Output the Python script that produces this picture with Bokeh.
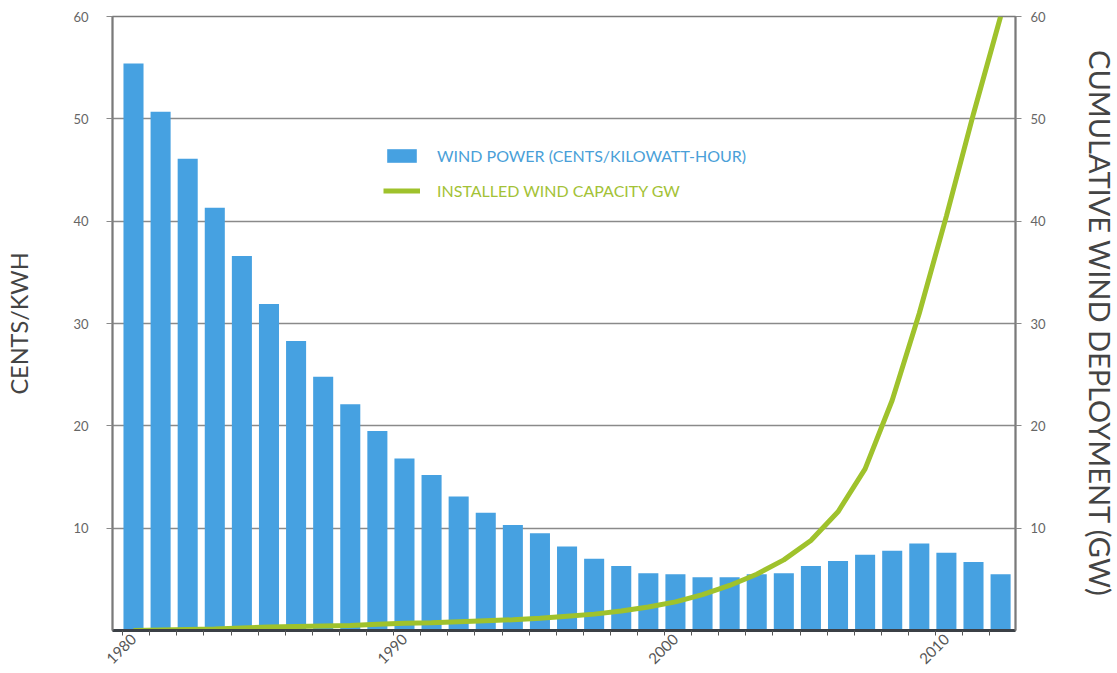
from math import pi
from bokeh.plotting import figure
from bokeh.models import (Range1d, LinearAxis, FixedTicker, Legend, LegendItem,
                          ColumnDataSource)
from bokeh.embed import file_html
from bokeh.resources import INLINE

# ---- data ----
years = list(range(1980, 2013))
cents_per_kwh = [55.4, 50.7, 46.1, 41.3, 36.6, 31.9, 28.3, 24.8, 22.1, 19.5,
                 16.8, 15.2, 13.1, 11.5, 10.3, 9.5, 8.2, 7.0, 6.3, 5.6,
                 5.5, 5.2, 5.2, 5.5, 5.6, 6.3, 6.8, 7.4, 7.8, 8.5,
                 7.6, 6.7, 5.5]
capacity_gw = [0.0, 0.05, 0.1, 0.15, 0.25, 0.35, 0.4, 0.45, 0.5, 0.6,
               0.7, 0.75, 0.85, 0.95, 1.05, 1.2, 1.4, 1.6, 1.9, 2.3,
               2.8, 3.5, 4.4, 5.5, 6.9, 8.8, 11.6, 15.8, 22.5, 31.0,
               40.5, 50.5, 60.0]
y_ticks = [10, 20, 30, 40, 50, 60]
x_label_years = [1980, 1990, 2000, 2010]

bar_label = "WIND POWER (CENTS/KILOWATT-HOUR)"
line_label = "INSTALLED WIND CAPACITY GW"
left_title = "CENTS/KWH"
right_title = "CUMULATIVE WIND DEPLOYMENT (GW)"

BLUE = "#46a1e1"
GREEN = "#9fc22c"
FONT = "Lato"

src = ColumnDataSource(dict(year=years, cents=cents_per_kwh, gw=capacity_gw))

p = figure(frame_width=903, frame_height=614,
           output_backend="svg", toolbar_location=None,
           x_range=Range1d(1979.225, 2012.55), y_range=Range1d(0, 60),
           min_border_left=112, min_border_right=10, min_border_top=16,
           min_border_bottom=10)
p.extra_y_ranges = {"gw": Range1d(0, 60)}

p.outline_line_color = "#7a7a7a"
p.outline_line_width = 1.5
p.background_fill_color = "white"
p.border_fill_color = "white"

bars = p.vbar(x="year", top="cents", width=0.74, source=src,
              fill_color=BLUE, line_color=None)
line = p.line(x="year", y="gw", source=src, y_range_name="gw",
              line_color=GREEN, line_width=5)

# ---- axes ----
p.xaxis.ticker = FixedTicker(ticks=x_label_years,
                             minor_ticks=[y - 0.4 for y in years])
p.xaxis.major_label_orientation = pi / 4
p.xaxis.major_tick_line_color = None
p.xaxis.major_tick_out = 4
p.xaxis.major_tick_in = 0
p.xaxis.minor_tick_line_color = "#555555"
p.xaxis.minor_tick_out = 5
p.xaxis.minor_tick_in = 0
p.xaxis.axis_line_color = "#3b4046"
p.xaxis.axis_line_width = 3
p.xaxis.major_label_standoff = 1
p.xaxis.major_label_text_font = FONT
p.xaxis.major_label_text_font_size = "15px"
p.xaxis.major_label_text_color = "#555555"

p.yaxis.ticker = FixedTicker(ticks=y_ticks)
p.yaxis.minor_tick_line_color = None
p.yaxis.major_tick_out = 6
p.yaxis.major_tick_in = 0
p.yaxis.major_tick_line_color = "#8a8a8a"
p.yaxis.axis_line_color = "#7a7a7a"
p.yaxis.axis_line_width = 2
p.yaxis.major_label_standoff = 18
p.yaxis.major_label_text_font = FONT
p.yaxis.major_label_text_font_size = "13px"
p.yaxis.major_label_text_color = "#666666"
p.yaxis.axis_label = left_title
p.yaxis.axis_label_text_font = FONT
p.yaxis.axis_label_text_font_style = "normal"
p.yaxis.axis_label_text_font_size = "23.5px"
p.yaxis.axis_label_text_color = "#444444"
p.yaxis.axis_label_standoff = 37

ra = LinearAxis(y_range_name="gw", ticker=FixedTicker(ticks=y_ticks))
ra.minor_tick_line_color = None
ra.major_tick_out = 6
ra.major_tick_in = 0
ra.major_tick_line_color = "#8a8a8a"
ra.axis_line_color = "#7a7a7a"
ra.axis_line_width = 2
ra.major_label_standoff = 9
ra.major_label_text_font = FONT
ra.major_label_text_font_size = "13px"
ra.major_label_text_color = "#666666"
ra.axis_label = right_title
ra.axis_label_text_font = FONT
ra.axis_label_text_font_style = "normal"
ra.axis_label_text_font_size = "29px"
ra.axis_label_text_color = "#444444"
ra.axis_label_standoff = 34
p.add_layout(ra, "right")

# ---- grid ----
p.xgrid.grid_line_color = None
p.ygrid.ticker = FixedTicker(ticks=y_ticks)
p.ygrid.grid_line_color = "#8a8a8a"
p.ygrid.grid_line_width = 1.5

# ---- legends (two, for per-item text colours) ----
def make_legend(item, color, loc):
    lg = Legend(items=[item], location=loc, padding=0, margin=0,
                border_line_color=None, background_fill_alpha=0,
                glyph_width=37, glyph_height=17, label_height=17,
                label_standoff=17, label_text_font=FONT,
                label_text_font_size="16px", label_text_color=color)
    p.add_layout(lg)

make_legend(LegendItem(label=bar_label, renderers=[bars]), "#4a9fd8", (271, 465))
make_legend(LegendItem(label=line_label, renderers=[line]), "#a3c236", (271, 430))

open("out.html", "w").write(file_html(p, INLINE))
